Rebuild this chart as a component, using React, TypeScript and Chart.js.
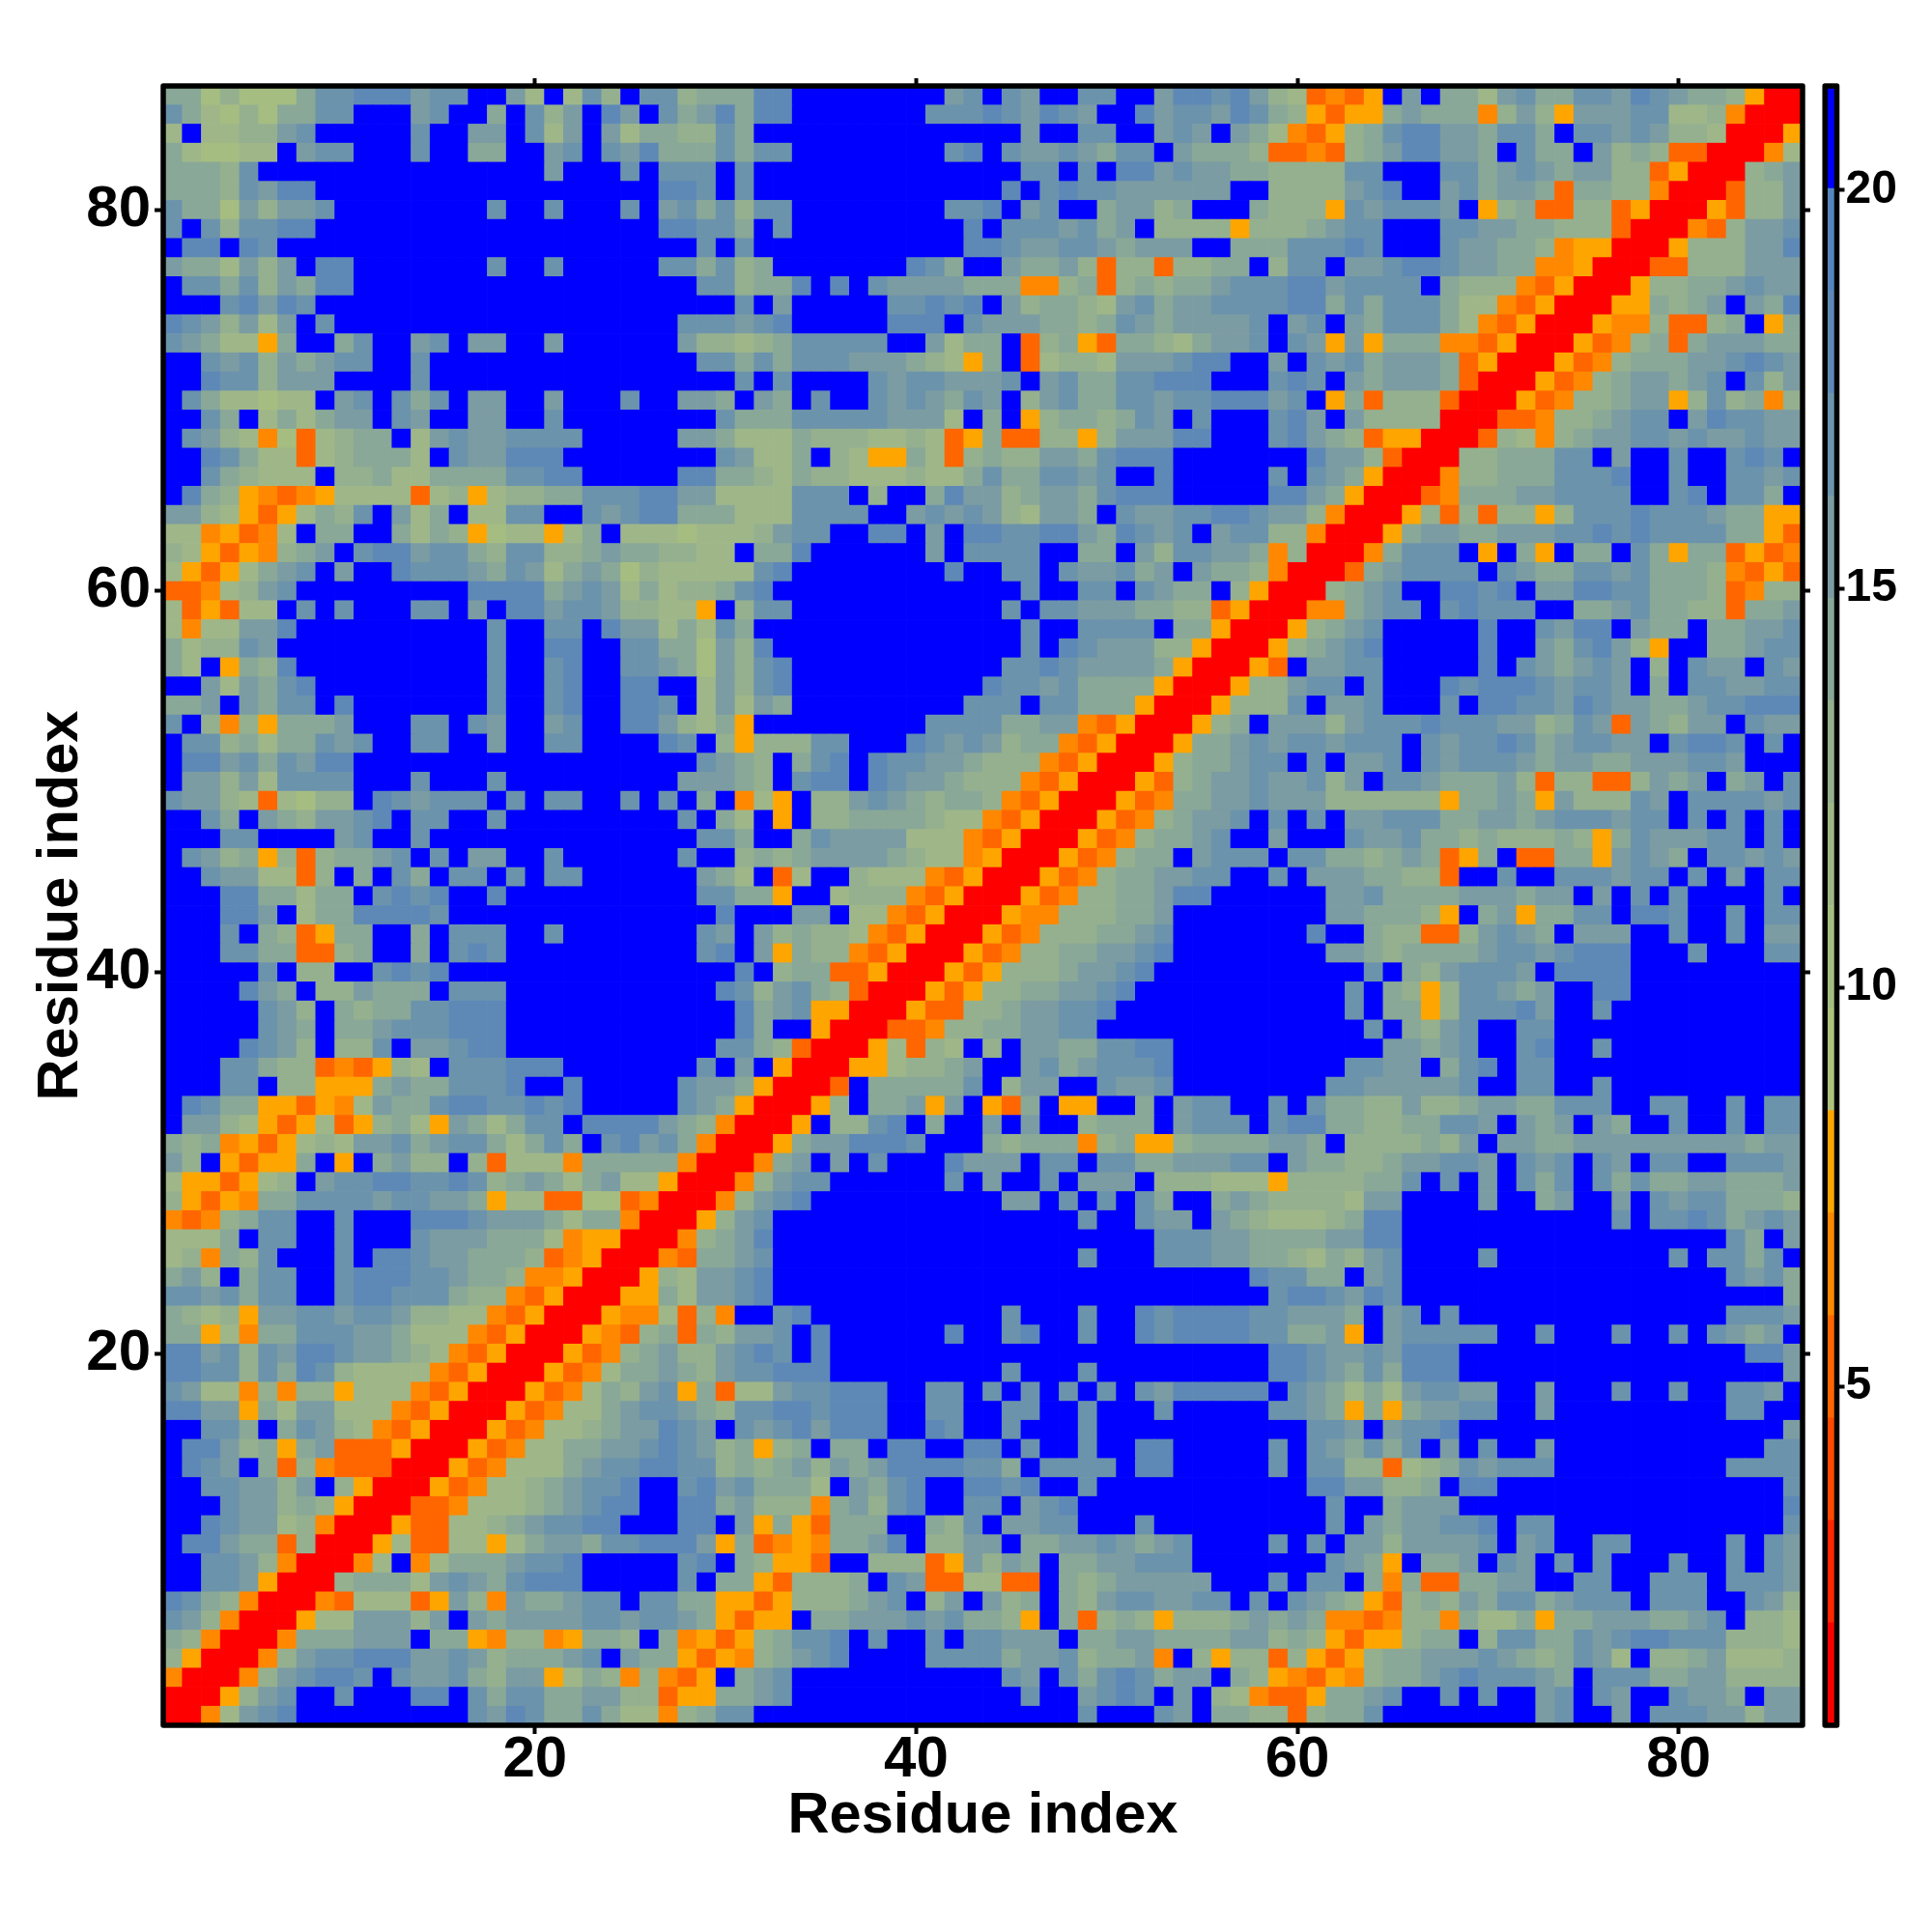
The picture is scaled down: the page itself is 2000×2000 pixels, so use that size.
import React, { useEffect, useRef } from "react";
import { Chart, registerables } from "chart.js";

Chart.register(...registerables);

// One string per row of the map, top row (residue 86) first, columns 1..86.
// Codes: 0 red, t u v orange steps, 1-9 green to steel blue, b deep blue (above 20).
const contactRows: string[] = [
  "5524222577 888677bb63 b374b77455 588bbbbbbb b6 7b76bb77bb 68878643tu tvb6b55367 5577687655 4v00",
  "7532425577 bbb67bb5b7 46b86b7568 588bbbbbbb 77 7876876bb8 67768754vt vv56555u46 4v66677334 u000",
  "3b334467bb bbb7bb66b7 36b6355447 5bbbbbbbbb bb bbb6bb77bb 676b653utv 4578866577 5b77676443 000v",
  "532233b677 bbb7bb55bb 67b7685557 577bbbbbbb b7 8b76676577 b65554ttut 45688665b7 55b6454tt0 00u3",
  "55547bbbbb bbbbbbbbbb 6bbb7b777b 7bbbbbbbbb bb bbb77b7b88 6766554444 77bbb77567 656644tv00 0456",
  "55547688bb bbbbbbbbbb bbbbbb887b 7bbbbbbbbb bb bb8b787766 6666bb4444 678bb67566 5t5544u000 t446",
  "755264667b bbbbbbb7bb 7bbb7b6757 477bbbbbbb b7 78b67bb566 45bbb5444v 767776bv45 tt44tv000v t446",
  "7b747788bb bbbbbbbbbb bbbbbb8877 5b7bbbbbbb bb 8b7776756b 4444v44456 77bbb77665 5444t000ut 4667",
  "b88b87bbbb bbbbbbbbbb bbbbbbbb7b 7bbbbbbbbb bb 8876677656 66bb555777 87bbb76655 4uvv000v44 4668",
  "6553646b88 bbbbbbb7bb 7bbbbb7757 45bbbbbbb8 75 bb65564t44 t4455b477b 6678876655 uuv000tt44 4666",
  "b775746588 bbbbbbbbbb bbbbbbbb77 4558b8b766 66 555uu45t45 4556777886 7777b5444u tv000v4455 6766",
  "bbb78687bb bbbbbbbbbb bbbbbbbbbb 7b6bbbbb77 87 8b64554367 5667777885 75777533ut v000vv5456 b658",
  "8764636b7b bbbbbbbbbb bbbbbbb777 678bbbbb88 8b 7666554576 566667b67b 6577753utv 000vuu4tt4 5bv5",
  "76533v5bb5 7bb67b66bb 6bbbbbb644 34577777bb 63 55bt45vt55 435667b76v 6v555uutv0 00vtu45t56 6655",
  "bb76746567 7bb7bbbbbb bbbbbbbb77 5757776665 43 v5bt344366 6788bb6b76 756665tv00 0vtu455566 7876",
  "bb8774666b bbb7bbbbbb bbbbbbbbbb 7b7bbbb767 76 667b675577 888bbb787b 656665t000 vtu4566567 b746",
  "b7533233b6 7b757b66bb 6bbb7bb665 b65b7bb767 65 76b4675577 67788867bv 5t444t000v tu44566v47 45u4",
  "bb75b35356 6b76bb66bb 7bbbbbbbb7 5557777766 63 b5bv455457 6b7bbb786b 64444000tt u445677b68 7766",
  "b7643u2t34 55b3676677 77bbbbb665 3335444334 3t v5tt44v466 688bbb7865 4tvv000t43 u456677676 6766",
  "bb87533t34 5553b76688 8bbbbbbbb7 6335b43vv5 3t 4544665788 8bbbbbbb86 64t0004455 577b6bb7bb 787b",
  "bb754333b4 4533555577 88bbbbb885 5435443334 33 57557767bb 8bbbbb7b76 5v000u4455 57778bb7bb 7767",
  "b854vutuv3 333t34v344 5577788663 333777b4bb 58 6645665788 8bbbbb8865 v000tu5556 67777bb78b 775b",
  "6643vtv354 7b635b3377 bb76788555 3337777bb6 76 7643665b76 677887664u 000v4t4t44 v477787776 55vv",
  "33uvtu3b55 bb5354v233 v35b333233 34677bb88b 6b 8877886587 67b67744u0 00v5665566 6778787777 55vt",
  "43vtvu456b 7886775477 4456554433 b558bbbbbb 6b 7777bb55b6 477665u400 0u5777bvb5 vb55b75v55 tvtu",
  "3vtv3567b6 bb87776576 3565243333 378bbbbbbb b8 bb77b76675 6b6554u000 t567777b76 5577675554 utvt",
  "ttu3467bbb bbbbbb8888 5676353445 78bbbbbbbb bb bbb7bb77b7 655b4v0004 567bb8878b 6688775554 tu44",
  "3tvt33b7b7 bbb77b6b88 67764433vb 477bbbbbbb bb bb7b776665 544tv000uu 5677b78777 bb55675544 t556",
  "3u33668bbb bbbbbbb7bb 77b8663537 5bbbbbbbbb bb bbb7bb7777 b55v000v45 67bbbbb8bb 7688b655b5 5667",
  "534476bbbb bbbbbbb7bb 88bb775526 48bbbbbbbb bb bbb7b87666 44v000v456 78bbbbb8bb 657864vbb5 5677",
  "53bv548bbb bbbbbbb7bb 78bb776526 478bbbbbbb bb bb77876666 5v000vtb66 77bbbbb8b7 65676b4b76 6b76",
  "bb636578bb bbbbbbb7bb 78bb88bb36 478bbbbbbb bb b877675555 v000v44677 b7bbb87888 76776b5b77 6677",
  "556b6577b8 bbbbbbb7bb 78bb887b36 365bbbbbbb bb 777b77555v 000v4447b6 67bbb7b887 7687665567 7888",
  "7b4u4v5556 bbb77b76bb 67bb886435 vbbbbbbbbb 77 775566utv0 00v45b6664 6777877766 4576t65466 b766",
  "b774535576 7bb77bb6bb 77bbbb87b4 v44477bbb8 76 76455utv00 0v55676776 777b767787 567766b788 7b7b",
  "b886757688 bbbbbbbbbb bbbbbbbb76 54b578b877 66 5444utv000 v455677b7b 667b767776 5665566677 6bbb",
  "b664637777 bbb7bbb7bb bbbbbbb666 54b788b876 65 444utv000v t456676674 6b77655564 t44tt4656b 56b7",
  "76643t3244 b876777b7b 77bb7b7b5b u3vb446765 45 54utv000vt u556676664 44444v5565 v644476b77 7767",
  "bb75b65466 78b77bb7bb bbbbbbb7b5 3bvb445555 43 3utv000vtu 45667b7b7b 6677755665 6777677b7b 7b7b",
  "bbb77bbbb6 7bb7bbbbbb bbbbbbbb77 5bb5766663 33 utv000vtu4 5567bb6bbb 7667554544 454v576667 7b7b",
  "b7645v4t45 567b7b66bb 7bbbbbb7bb 4545666654 33 uv000vtu45 5b6777b775 54565tv5bt t55v6765b7 7676",
  "bb76633t4b 5b75b77b7b 77bbbbbb65 3bt3bb4333 ut v000vtu455 6677bb7b66 65544tbb7b b777677b7b 6b77",
  "bbb8855355 b7878bb8bb bbbbbbbb77 55vbb3444u tv 000vtu4455 688bbbbbb6 6755556665 66b6b7b7bb bb7b",
  "bbb886b355 88887bbbbb bbbbbbbbb8 bbb66b33ut v0 00vuu44455 6bbbbbbbb6 65554vb56v 5577b887bb 7b77",
  "bbb7b54tv5 5bb5b777bb 7bbbbbbb76 b645443utv 00 0vtu444556 7bbbbbbb8b b544tt4676 5b666bb7bb 7b66",
  "bbb7755tt4 5bb5b787bb bbbbbbbb78 b6v544utv0 00 vtu4455667 8bbbbbbbb6 6545555677 67888bbb7b bb77",
  "bbbbb7b44b b7878bbbbb bbbbbbbbbb 8b455ttv00 0v tv44456678 bbbbbbbbbb b7b5467776 b8888bbbbb bbbb",
  "bbbb865b44 6555b777bb bbbbbbbbb8 746754t000 vt v44556678b bbbbbbbbbb 7b54v47765 6bb88bbbbb bbbb",
  "bbbbb764b5 45577888bb bbbbbbbbbb 8567vv000v tt 44566778bb bbbbbbbbbb 7b55v47778 6bb7bbbbbb bbbb",
  "bbbbb765b5 56777888bb bbbbbbbbbb 85bbv000tt u4 4556677bbb bbbbbbbbbb b7b5467bb7 7bbbbbbbbb bbbb",
  "bbbb8764b4 47b66788bb bbbbbbbbb7 754t000v3t 43 b4b6655778 8bbbbbbbbb bb66567bb7 8bb7bbbbbb bbbb",
  "bbb77544tu tv43b77788 8bbbbbbb7b 6bv000vv34 45 6bb6756777 8bbbbbbbbb 7766b578b7 7bbbbbbbbb bbbb",
  "bbb77b44vv v56557778b b8bbbbb766 5v000tb555 55 7b466bb766 7bbbbbbbb7 7666667bb7 7bb7bbbbbb bbbb",
  "b8755vvtvu 3655788778 78bbbbb765 v000v4b556 v6 bvt5bvvbb5 b677bb7b75 5446445665 5777bb77bb 7b77",
  "b6643vtv3t v453v65357 7b8888654u 000vb4478b 5b b6b6bb4555 b6777b7885 54455776b6 56b65bb7bb 7b77",
  "545uvtv343 6675677535 75b78675u0 00v5668887 bb b54555u45v v45555665b 4444546b66 5566666666 6566",
  "64bvtvv5bv b5644b4t33 3u55555u00 0u56b6b7bb b8 666b77b775 566677b655 44566776b7 67b76b77bb 7776",
  "3vvtv34b67 7887787456 535633v000 u4677bbbbb b7 b6bb7b666b 444333v444 4557b7b6b7 57b7575566 5556",
  "4vtvu55777 7677665v33 tt22tu000u 4678bbbbbb bb bb66b7b7b7 5bb5654444 366bbbb6bb 56bb6b7677 5554",
  "utu4577bb7 bbb8887666 5355u000v4 67bbbbbbbb bb bbbbbb7bb7 66b6543334 588bbbbbbb bbbb7b7787 5676",
  "3335b77bb7 bbb7666555 3uvv000u45 68bbbbbbbb bb bbbbbbbbbb 7776655556 688bbbbbbb bbbbbbbbbb 75b6",
  "34u547bbb7 b887665554 tuv000ut55 67bbbbbbbb bb bbbbbb7bbb 7776655435 467bbbb7bb bbbbbbb7b7 757b",
  "564b577bb7 888776554u uv000v4366 78bbbbbbbb bb bbbbbbbbbb bbbbb87755 b67bbbbbbb bbbbbbbbbb 7675",
  "7767577bb7 88777544ut v000vv5366 78bbbbbbbb bb bbbbbbbbbb bbbbbb7887 687bbbbbbb bbbbbbbbbb bbb5",
  "5434v66776 7764433utv 000vuu3t4u bb78bbbbbb bb bb7bbb7bb8 7888877666 5b67b7bbbb bbbbbbbbbb 7776",
  "55v3u55777 665333utv0 00vut45t54 667b8bbbbb b8 bb78bb7bb8 7888877556 vb677777bb 7bbb7bb7b7 656b",
  "8867476887 66543utv00 0vtu456446 787b8bbbbb bb bbbbbbbbbb bbbbbb8876 676888bbbb bbbbbbbbbb b886",
  "8877475874 3333utv000 vtu3556546 77888bbbbb bb bb7bbb7bbb bbbbbb8876 575888bbbb bbbbbbbbbb bbb6",
  "7633u4u44v 333utv000v tu35467v5t 33677888bb 77 b7b7b7b7b7 688888b765 35367766bb 6bbb7bb7bb 776b",
  "8866v53663 33utv000vt u335677654 77887888bb 77 bb77bb7bbb 7bbbbb7765 v5v56677bb 6bbbbbbbbb 77bb",
  "bb775b5764 3utv000vtu 334566876b 76786888bb 87 bb7bbb7bbb bbbbbbbb77 6b6778bbbb bbbbbbbbbb bbb6",
  "b88645v56t ttv000vtu3 3556678764 5v45b55b88 bb 88b7bb7bb8 8bbbbb7b76 5757b6b7bb 6bbbbbbbbb bb77",
  "b876b5t4ut tt000vtu33 3567788774 5456465688 88 775b7777b8 8bbbbb7b77 44t3457677 7bbbbbbbbb 7777",
  "bb776646b4 v000vtu334 56778bb786 75553b6578 bb 8878bb7bbb bbbbbbbb88 66445b88bb bbbbbbbbbb bbb7",
  "bbb766454v 000ttu3334 56788bb885 6444u56478 bb 77b678bbbb bbbbbbbbb7 bb5666bbbb bbbbbbbbbb bbb8",
  "bb876634u0 00vtt33456 7788bbb88b 6v5vt555bb 54 7b6677bbb7 bbbbbbbbb7 b6566778b7 7bbbbbbbbb bbb7",
  "b88655t400 0v3tt33v35 665778886v 5tuvu5568b 44 66b5566765 67bbbb7b7b 66466667b6 7bb77bbbbb 7b76",
  "bb7764u000 u3bu355567 78bbbbb78b 54vvtbb444 tv 6465b55667 77bbbbbbb7 65vb556b76 b7b7bbb7bb 7b76",
  "bb776v0004 5553676578 88bbbbb7b5 5vt4445b76 tt 33ttb54566 666bbb7b77 b5u5tt5566 bb77bb777b 7776",
  "8754u000ut 333tv64u65 5677b7755v vtv444567b 46 b645b54677 6677b7b765 4vt4546577 56777b777b b764",
  "764u000v33 66646b6566 667767765v tvvb556667 67 554vb5t454 v44456565u utu44u5335 v556665567 b443",
  "54u000u555 666b55vu44 uv554b5uvt v45778b7bb 7b 77666b5566 555566454v tvv455b477 5576788777 4443",
  "4v000u4677 8886676455 567b655vtv u45678bbbb 77 7756674556 ub4v44t4vt v455666765 45763b4456 3334",
  "u000u46788 7b76675466 v354u4utvb 567bbbbbbb bb bb76b75787 566b54vutv u455678777 65b7775566 4444",
  "000v467bb7 bbb88b7577 556644tvv5 567bbbbbbb bb bbb7bb6787 b6b43uttv5 567bb7b7bb 67b76bb766 5b66",
  "00u3678bbb bbbbbb7687 557533u457 7bbbbbbbbb bb bbbbbb7bbb 76b5544t45 57bbbbbbbb 67bb6b7776 6466",
];

const axisTicks = [20, 40, 60, 80];
const colorbarTicks = [5, 10, 15, 20];
const colorMin = 0.75;
const colorMax = 21.3;
const levelColors = [
  "#ff0000", "#ff2600", "#ff4800", "#ff6600", "#ff8800", "#ffa500",
  "#adc37c", "#a6bd81", "#9fb788", "#95b08f", "#89a897", "#7b9ca2", "#6c93ac", "#5e89b6", "#5585bd",
  "#0000ff",
];
const axisLabel = "Residue index";
const fontFamily = "'Liberation Sans', Arial, sans-serif";

const levelStep = (colorMax - colorMin) / levelColors.length;
const levelFromCode = (code: string) => {
  if (code === "0") return 0;
  if (code === "t") return 3;
  if (code === "u") return 4;
  if (code === "v") return 5;
  if (code === "b") return 15;
  return 5 + Number(code);
};
const mapPoints = contactRows.flatMap((row, r) =>
  row
    .replace(/ /g, "")
    .padEnd(86, "b")
    .slice(0, 86)
    .split("")
    .map((code, c) => ({ x: c + 1, y: contactRows.length - r, v: colorMin + (levelFromCode(code) + 0.5) * levelStep }))
);
const colorOf = (v: number) =>
  levelColors[Math.min(levelColors.length - 1, Math.max(0, Math.floor((v - colorMin) / levelStep)))];

const setTicks = (values: number[]) => (scale: any) => {
  scale.ticks = values.map((value) => ({ value }));
};
const fixSize = (prop: "width" | "height", size: number) => (scale: any) => {
  scale[prop] = size;
};

const framePlugin = {
  id: "frame",
  afterDatasetsDraw(chart: any) {
    const { ctx, chartArea: a } = chart;
    ctx.save();
    ctx.strokeStyle = "#000";
    ctx.lineWidth = 5.5;
    ctx.lineJoin = "round";
    ctx.strokeRect(a.left, a.top, a.right - a.left, a.bottom - a.top);
    ctx.restore();
  },
};

const tickGrid = (tickLength: number) => ({
  drawOnChartArea: false,
  drawTicks: true,
  tickLength,
  tickWidth: 4,
  tickColor: "#000",
  color: "#000",
});

export default function App() {
  const mapRef = useRef<HTMLCanvasElement>(null);
  const barRef = useRef<HTMLCanvasElement>(null);

  useEffect(() => {
    document.body.style.margin = "0";
    document.body.style.background = "#fff";

    const tickFont = { family: fontFamily, size: 60, weight: "bold" as const, lineHeight: 1 };
    const titleFont = { family: fontFamily, size: 59.6, weight: "bold" as const, lineHeight: 1.2 };
    const range = { type: "linear" as const, min: 0.5, max: 86.5, afterBuildTicks: setTicks(axisTicks) };

    const map = new Chart(mapRef.current!, {
      type: "scatter",
      data: {
        datasets: [
          {
            data: mapPoints as any,
            pointStyle: "rect",
            pointBorderWidth: 0,
            pointBackgroundColor: (c: any) => colorOf(c.raw.v),
            pointRadius: (c: any) => {
              const s = c.chart.scales.x;
              const cell = Math.abs(s.getPixelForValue(2) - s.getPixelForValue(1));
              return (cell + 0.7) * Math.SQRT1_2;
            },
            pointHoverRadius: 0,
          } as any,
        ],
      },
      options: {
        animation: false,
        responsive: false,
        devicePixelRatio: 1,
        events: [],
        layout: { padding: 0 },
        plugins: { legend: { display: false }, tooltip: { enabled: false } },
        scales: {
          x: {
            ...range,
            position: "bottom",
            afterFit: fixSize("height", 214),
            border: { display: false },
            grid: tickGrid(9),
            ticks: { font: tickFont, color: "#000", padding: -3, autoSkip: false, maxRotation: 0, callback: (v: any) => String(v) },
            title: { display: true, text: axisLabel, color: "#000", font: titleFont, padding: { top: 0, bottom: 83.5 } },
          },
          y: {
            ...range,
            position: "left",
            afterFit: fixSize("width", 169),
            border: { display: false },
            grid: tickGrid(9),
            ticks: { font: tickFont, color: "#000", padding: 4, autoSkip: false, callback: (v: any) => String(v) },
            title: { display: true, text: axisLabel, color: "#000", font: titleFont, padding: { top: 27.5, bottom: 0 } },
          },
          xTop: {
            ...range,
            position: "top",
            afterFit: fixSize("height", 89),
            border: { display: false },
            grid: tickGrid(8),
            ticks: { display: false, autoSkip: false },
          },
          yRight: {
            ...range,
            position: "right",
            afterFit: fixSize("width", 134),
            border: { display: false },
            grid: tickGrid(8),
            ticks: { display: false, autoSkip: false },
          },
        } as any,
      },
      plugins: [framePlugin],
    });

    const bar = new Chart(barRef.current!, {
      type: "bar",
      data: {
        labels: ["distance"],
        datasets: levelColors.map((color, i) => ({
          label: String(i),
          data: [[colorMin + i * levelStep, colorMin + (i + 1) * levelStep]] as any,
          backgroundColor: color,
          borderWidth: 0,
          barPercentage: 1,
          categoryPercentage: 1,
        })),
      },
      options: {
        animation: false,
        responsive: false,
        devicePixelRatio: 1,
        events: [],
        layout: { padding: { left: 9.2, top: 89, bottom: 214 } },
        plugins: { legend: { display: false }, tooltip: { enabled: false } },
        scales: {
          x: { display: false, stacked: true },
          y: {
            position: "right",
            min: colorMin,
            max: colorMax,
            afterBuildTicks: setTicks(colorbarTicks),
            afterFit: fixSize("width", 98.5),
            border: { display: false },
            grid: tickGrid(8),
            ticks: {
              font: { family: fontFamily, size: 48, weight: "bold" as const },
              color: "#000",
              padding: 1,
              autoSkip: false,
              callback: (v: any) => String(v),
            },
          },
        } as any,
      },
      plugins: [framePlugin],
    });

    return () => {
      map.destroy();
      bar.destroy();
    };
  }, []);

  return (
    <div style={{ position: "relative", width: 2000, height: 2000, background: "#fff", overflow: "hidden" }}>
      <canvas ref={mapRef} width={2000} height={2000} style={{ position: "absolute", left: 0, top: 0, display: "block" }} />
      <canvas ref={barRef} width={120} height={2000} style={{ position: "absolute", left: 1880, top: 0, display: "block" }} />
    </div>
  );
}
